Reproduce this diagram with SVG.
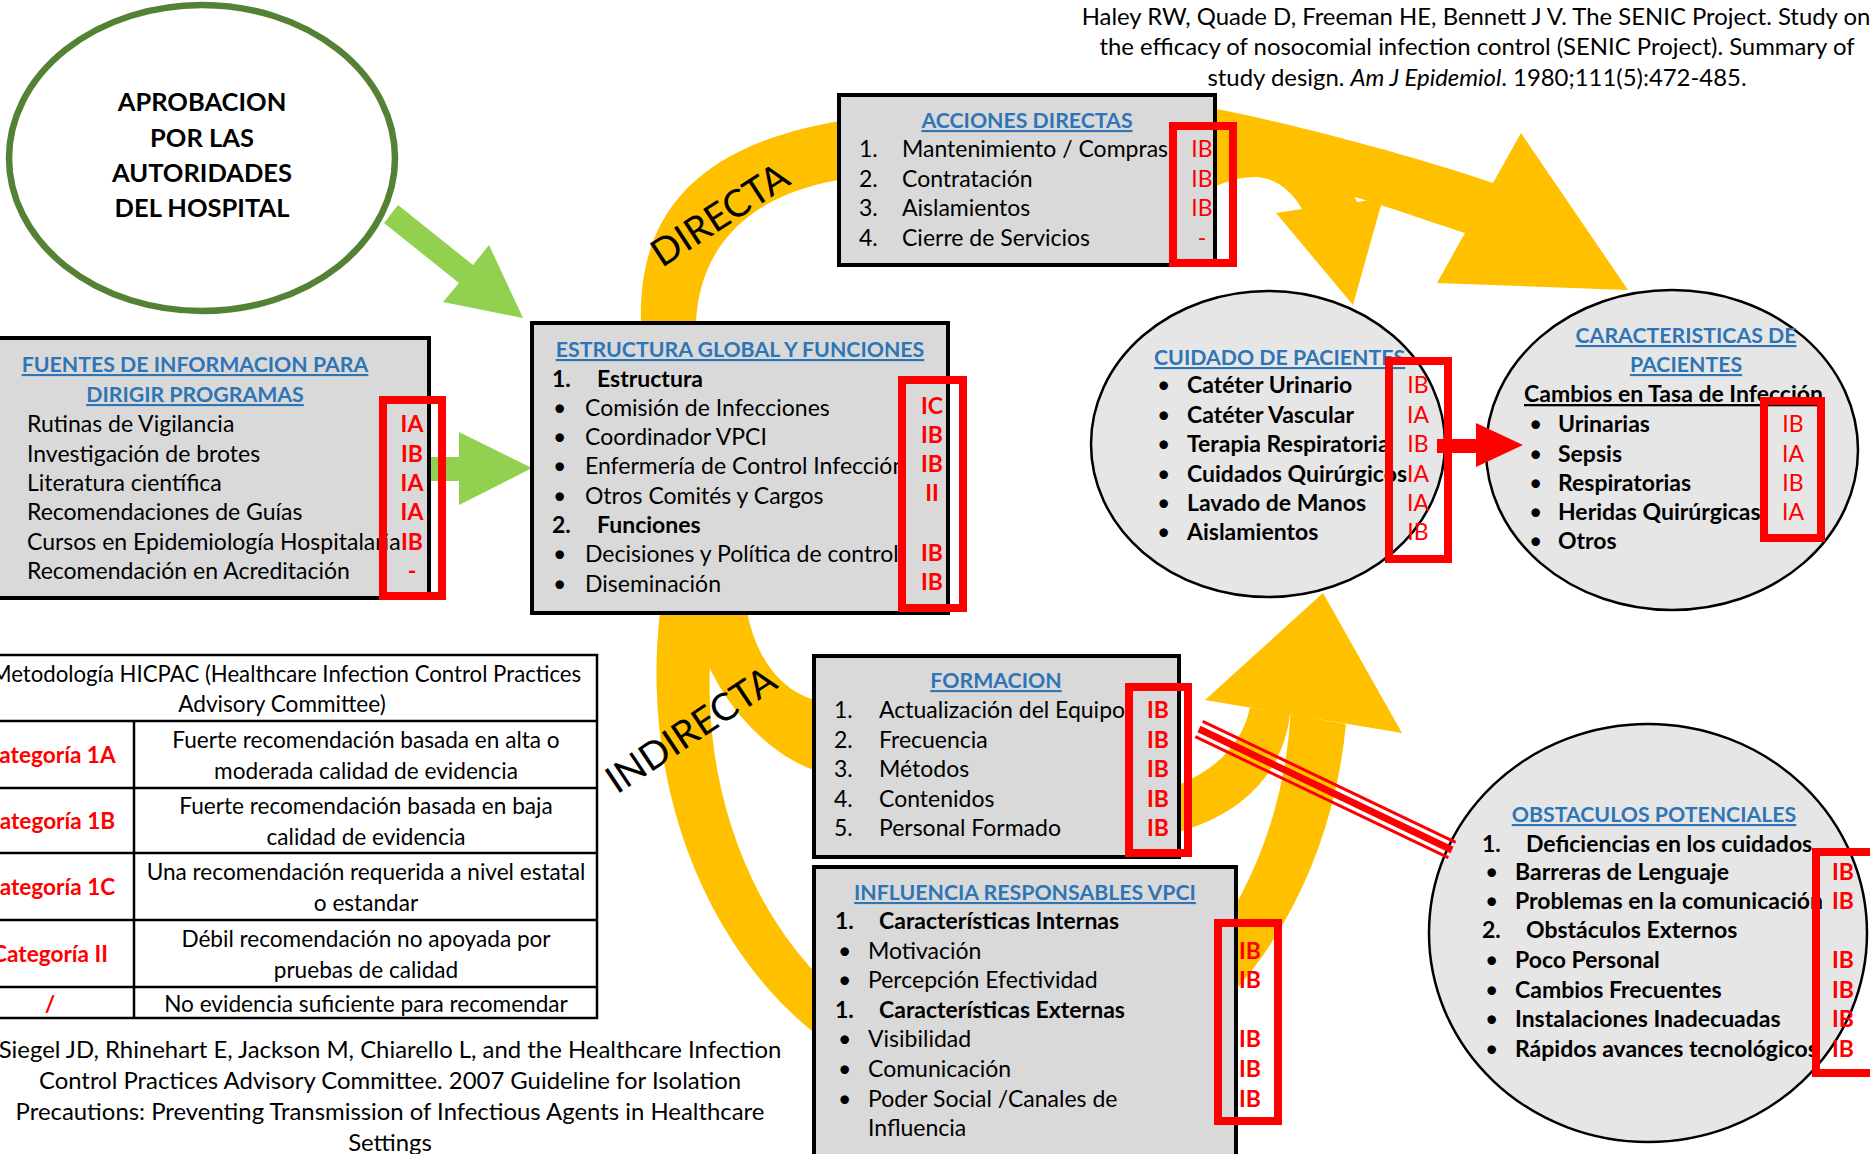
<svg xmlns="http://www.w3.org/2000/svg" width="1870" height="1154" viewBox="0 0 1870 1154">
<style>
text{font-family:Lato,'Liberation Sans',sans-serif;font-size:23px;fill:#000}
.b{font-weight:700}
.m{text-anchor:middle}
.ti{fill:#2e75b6;font-weight:700;text-decoration:underline;font-size:21.3px}
.r{fill:#ff0000}
.box{fill:#d9d9d9;stroke:#000;stroke-width:4}
.ell{fill:#e7e6e6;stroke:#000;stroke-width:2.5}
.rr{fill:none;stroke:#ff0000;stroke-width:8}
.y{fill:#ffc000}
.g{fill:#92d050}
.cite{font-size:23.9px}
.tt{font-size:22.6px}
.th{font-size:22.2px}
.big{font-size:25.5px;font-weight:700}
.arc{font-size:38px}
.tb{fill:none;stroke:#000;stroke-width:2.5}
</style>
<rect width="1870" height="1154" fill="#fff"/>

<g id="connectors">
<path class="y" d="M641,340 L641,322 C638,215 695,140 860,118 C1000,95 1150,98 1216,109 C1300,125 1420,158 1493,183 L1521,133 L1628,290 L1437,283 L1465,233 C1400,212 1300,175 1216,165 C1050,150 900,165 839,180 C750,195 700,245 696,322 L696,340 Z"/>
<path class="y" d="M1180,125 C1280,128 1340,160 1357,202 L1383,198 L1353,305 L1276,213 L1302,209 C1290,188 1272,177 1255,177 C1240,177 1228,181 1216,186 L1180,186 Z"/>
<path class="y" d="M661.5,600 A346,429 0 1 0 1346,724 L1290.6,714 A291,374 0 1 1 717,600 Z"/>
<path class="y" d="M745,600 C752,650 775,688 814,700 L1178,785 C1215,770 1242,745 1250,707.5 L1290,714 C1283,775 1240,815 1178,832 L814,770 C775,757 730,715 707,662 L705,600 Z"/>
<polygon class="y" points="1205,700 1323,593 1402,733"/>
<text class="arc m" transform="rotate(-33 720 215)" x="720" y="228">DIRECTA</text>
<text class="arc m" transform="rotate(-33.6 691 730)" x="691" y="743">INDIRECTA</text>
<polygon class="g" points="398,205 473,265 489,245 523,318 443,302 459,283 384,223"/>
<polygon class="g" points="429,457 459,457 459,432 532,468 459,505 459,481 429,481"/>
</g>

<g id="aprobacion">
<ellipse cx="202" cy="158" rx="193" ry="153" fill="#fff" stroke="#548235" stroke-width="6.5"/>
<text class="big m" x="202" y="111">APROBACION</text>
<text class="big m" x="202" y="147">POR LAS</text>
<text class="big m" x="202" y="182">AUTORIDADES</text>
<text class="big m" x="202" y="217">DEL HOSPITAL</text>
</g>

<g id="fuentes">
<rect class="box" x="-10" y="338" width="439" height="260"/>
<text class="ti m" x="195" y="372">FUENTES DE INFORMACION PARA</text>
<text class="ti m" x="195" y="402">DIRIGIR PROGRAMAS</text>
<text x="27" y="432">Rutinas de Vigilancia</text>
<text x="27" y="462">Investigación de brotes</text>
<text x="27" y="491">Literatura científica</text>
<text x="27" y="520">Recomendaciones de Guías</text>
<text x="27" y="550">Cursos en Epidemiología Hospitalaria</text>
<text x="27" y="579">Recomendación en Acreditación</text>
<text class="r b m" x="412" y="432">IA</text>
<text class="r b m" x="412" y="462">IB</text>
<text class="r b m" x="412" y="491">IA</text>
<text class="r b m" x="412" y="520">IA</text>
<text class="r b m" x="412" y="550">IB</text>
<text class="r b m" x="412" y="579">-</text>
<rect class="rr" x="383" y="400" width="59" height="196"/>
</g>

<g id="estructura">
<rect class="box" x="532" y="323" width="416" height="290"/>
<text class="ti m" x="740" y="357">ESTRUCTURA GLOBAL Y FUNCIONES</text>
<text class="b" x="552" y="387">1.</text><text class="b" x="597" y="387">Estructura</text>
<text x="553" y="416">•</text><text x="585" y="416">Comisión de Infecciones</text>
<text x="553" y="445">•</text><text x="585" y="445">Coordinador VPCI</text>
<text x="553" y="474">•</text><text x="585" y="474">Enfermería de Control Infección</text>
<text x="553" y="504">•</text><text x="585" y="504">Otros Comités y Cargos</text>
<text class="b" x="552" y="533">2.</text><text class="b" x="597" y="533">Funciones</text>
<text x="553" y="562">•</text><text x="585" y="562">Decisiones y Política de control</text>
<text x="553" y="592">•</text><text x="585" y="592">Diseminación</text>
<text class="r b m" x="932" y="414">IC</text>
<text class="r b m" x="932" y="443">IB</text>
<text class="r b m" x="932" y="472">IB</text>
<text class="r b m" x="932" y="501">II</text>
<text class="r b m" x="932" y="561">IB</text>
<text class="r b m" x="932" y="590">IB</text>
<rect class="rr" x="902" y="380" width="61" height="228"/>
</g>

<g id="acciones">
<rect class="box" x="839" y="95" width="376" height="170"/>
<text class="ti m" x="1027" y="128">ACCIONES DIRECTAS</text>
<text x="859" y="157">1.</text><text x="902" y="157">Mantenimiento / Compras</text>
<text x="859" y="187">2.</text><text x="902" y="187">Contratación</text>
<text x="859" y="216">3.</text><text x="902" y="216">Aislamientos</text>
<text x="859" y="246">4.</text><text x="902" y="246">Cierre de Servicios</text>
<text class="r m" x="1202" y="157">IB</text>
<text class="r m" x="1202" y="187">IB</text>
<text class="r m" x="1202" y="216">IB</text>
<text class="r m" x="1202" y="246">-</text>
<rect class="rr" x="1173" y="126" width="60" height="137"/>
</g>

<g id="cuidado">
<ellipse class="ell" cx="1268" cy="444" rx="177" ry="153"/>
<text class="ti" x="1154" y="365">CUIDADO DE PACIENTES</text>
<text x="1157" y="393">•</text><text class="b" x="1187" y="393">Catéter Urinario</text>
<text x="1157" y="423">•</text><text class="b" x="1187" y="423">Catéter Vascular</text>
<text x="1157" y="452">•</text><text class="b" x="1187" y="452">Terapia Respiratoria</text>
<text x="1157" y="482">•</text><text class="b" x="1187" y="482">Cuidados Quirúrgicos</text>
<text x="1157" y="511">•</text><text class="b" x="1187" y="511">Lavado de Manos</text>
<text x="1157" y="540">•</text><text class="b" x="1187" y="540">Aislamientos</text>
<text class="r m" x="1418" y="393">IB</text>
<text class="r m" x="1418" y="423">IA</text>
<text class="r m" x="1418" y="452">IB</text>
<text class="r m" x="1418" y="482">IA</text>
<text class="r m" x="1418" y="511">IA</text>
<text class="r m" x="1418" y="540">IB</text>
<rect class="rr" x="1389" y="361" width="59" height="198"/>
</g>

<g id="caracteristicas">
<ellipse class="ell" cx="1672" cy="450" rx="186" ry="160"/>
<text class="ti m" x="1686" y="343">CARACTERISTICAS DE</text>
<text class="ti m" x="1686" y="372">PACIENTES</text>
<text class="b" x="1524" y="402" text-decoration="underline">Cambios en Tasa de Infección</text>
<text x="1529" y="432">•</text><text class="b" x="1558" y="432">Urinarias</text>
<text x="1529" y="462">•</text><text class="b" x="1558" y="462">Sepsis</text>
<text x="1529" y="491">•</text><text class="b" x="1558" y="491">Respiratorias</text>
<text x="1529" y="520">•</text><text class="b" x="1558" y="520">Heridas Quirúrgicas</text>
<text x="1529" y="549">•</text><text class="b" x="1558" y="549">Otros</text>
<text class="r m" x="1793" y="432">IB</text>
<text class="r m" x="1793" y="462">IA</text>
<text class="r m" x="1793" y="491">IB</text>
<text class="r m" x="1793" y="520">IA</text>
<rect class="rr" x="1764" y="401" width="57" height="137"/>
</g>

<g id="formacion">
<rect class="box" x="814" y="656" width="365" height="201"/>
<text class="ti m" x="996" y="688">FORMACION</text>
<text x="834" y="718">1.</text><text x="879" y="718">Actualización del Equipo</text>
<text x="834" y="748">2.</text><text x="879" y="748">Frecuencia</text>
<text x="834" y="777">3.</text><text x="879" y="777">Métodos</text>
<text x="834" y="807">4.</text><text x="879" y="807">Contenidos</text>
<text x="834" y="836">5.</text><text x="879" y="836">Personal Formado</text>
<text class="r b m" x="1158" y="718">IB</text>
<text class="r b m" x="1158" y="748">IB</text>
<text class="r b m" x="1158" y="777">IB</text>
<text class="r b m" x="1158" y="807">IB</text>
<text class="r b m" x="1158" y="836">IB</text>
<rect class="rr" x="1129" y="687" width="59" height="166"/>
</g>

<g id="influencia">
<rect class="box" x="814" y="867" width="422" height="300"/>
<text class="ti m" x="1025" y="900">INFLUENCIA RESPONSABLES VPCI</text>
<text class="b" x="835" y="929">1.</text><text class="b" x="879" y="929">Características Internas</text>
<text x="838" y="959">•</text><text x="868" y="959">Motivación</text>
<text x="838" y="988">•</text><text x="868" y="988">Percepción Efectividad</text>
<text class="b" x="835" y="1018">1.</text><text class="b" x="879" y="1018">Características Externas</text>
<text x="838" y="1047">•</text><text x="868" y="1047">Visibilidad</text>
<text x="838" y="1077">•</text><text x="868" y="1077">Comunicación</text>
<text x="838" y="1107">•</text><text x="868" y="1107">Poder Social /Canales de</text>
<text x="868" y="1136">Influencia</text>
<text class="r b m" x="1250" y="959">IB</text>
<text class="r b m" x="1250" y="988">IB</text>
<text class="r b m" x="1250" y="1047">IB</text>
<text class="r b m" x="1250" y="1077">IB</text>
<text class="r b m" x="1250" y="1107">IB</text>
<rect class="rr" x="1218" y="923" width="60" height="198"/>
</g>

<g id="obstaculos">
<ellipse class="ell" cx="1648" cy="933" rx="219" ry="209"/>
<text class="ti m" x="1654" y="822">OBSTACULOS POTENCIALES</text>
<text class="b" x="1482" y="852">1.</text><text class="b" x="1526" y="852">Deficiencias en los cuidados</text>
<text x="1485" y="880">•</text><text class="b" x="1515" y="880">Barreras de Lenguaje</text>
<text x="1485" y="909">•</text><text class="b" x="1515" y="909">Problemas en la comunicación</text>
<text class="b" x="1482" y="938">2.</text><text class="b" x="1526" y="938">Obstáculos Externos</text>
<text x="1485" y="968">•</text><text class="b" x="1515" y="968">Poco Personal</text>
<text x="1485" y="998">•</text><text class="b" x="1515" y="998">Cambios Frecuentes</text>
<text x="1485" y="1027">•</text><text class="b" x="1515" y="1027">Instalaciones Inadecuadas</text>
<text x="1485" y="1057">•</text><text class="b" x="1515" y="1057">Rápidos avances tecnológicos</text>
<text class="r b m" x="1843" y="880">IB</text>
<text class="r b m" x="1843" y="909">IB</text>
<text class="r b m" x="1843" y="968">IB</text>
<text class="r b m" x="1843" y="998">IB</text>
<text class="r b m" x="1843" y="1027">IB</text>
<text class="r b m" x="1843" y="1057">IB</text>
<rect class="rr" x="1816" y="852" width="80" height="221"/>
</g>

<g id="connectors-front">
<polygon fill="#ff0000" points="1437,439 1476,439 1476,423 1523,445 1476,467 1476,453 1437,453"/>
<g stroke="#ff0000" fill="none">
<line x1="1202.7" y1="721.3" x2="1455.7" y2="842.3" stroke-width="3"/>
<line x1="1199" y1="729" x2="1452" y2="850" stroke-width="7"/>
<line x1="1195.3" y1="736.7" x2="1448.3" y2="857.7" stroke-width="3"/>
</g>
</g>

<g id="hicpac">
<rect class="tb" x="-33" y="655" width="630" height="363"/>
<path class="tb" d="M-33,721H597M-33,788H597M-33,853H597M-33,920H597M-33,987H597M134,721V1018"/>
<text class="th m" x="286" y="682">Metodología HICPAC (Healthcare Infection Control Practices</text>
<text class="tt m" x="282" y="712">Advisory Committee)</text>
<text class="tt r b m" x="50" y="763">Categoría 1A</text>
<text class="tt r b m" x="50" y="829">Categoría 1B</text>
<text class="tt r b m" x="50" y="895">Categoría 1C</text>
<text class="tt r b m" x="50" y="962">Categoría II</text>
<text class="tt r b m" x="50" y="1012">/</text>
<text class="tt m" x="366" y="748">Fuerte recomendación basada en alta o</text>
<text class="tt m" x="366" y="779">moderada calidad de evidencia</text>
<text class="tt m" x="366" y="814">Fuerte recomendación basada en baja</text>
<text class="tt m" x="366" y="845">calidad de evidencia</text>
<text class="tt m" x="366" y="880">Una recomendación requerida a nivel estatal</text>
<text class="tt m" x="366" y="911">o estandar</text>
<text class="tt m" x="366" y="947">Débil recomendación no apoyada por</text>
<text class="tt m" x="366" y="978">pruebas de calidad</text>
<text class="tt m" x="366" y="1012">No evidencia suficiente para recomendar</text>
</g>

<g id="cita-haley">
<text class="cite m" x="1476" y="25">Haley RW, Quade D, Freeman HE, Bennett J V. The SENIC Project. Study on</text>
<text class="cite m" x="1477" y="55">the efficacy of nosocomial infection control (SENIC Project). Summary of</text>
<text class="cite m" x="1477" y="86">study design. <tspan font-style="italic">Am J Epidemiol</tspan>. 1980;111(5):472-485.</text>
</g>

<g id="cita-siegel">
<text class="cite m" x="390" y="1058">Siegel JD, Rhinehart E, Jackson M, Chiarello L, and the Healthcare Infection</text>
<text class="cite m" x="390" y="1089">Control Practices Advisory Committee. 2007 Guideline for Isolation</text>
<text class="cite m" x="390" y="1120">Precautions: Preventing Transmission of Infectious Agents in Healthcare</text>
<text class="cite m" x="390" y="1151">Settings</text>
</g>
</svg>
